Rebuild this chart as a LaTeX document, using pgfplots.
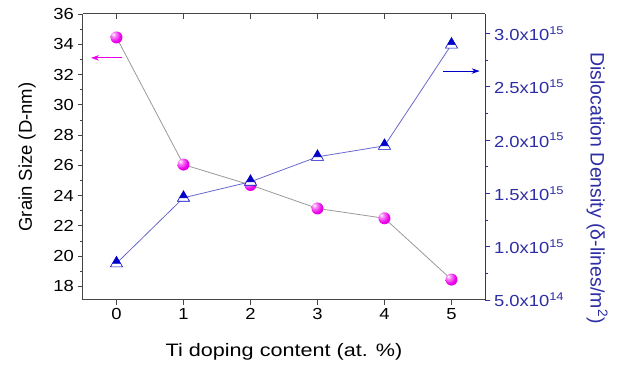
\documentclass[border=0pt]{standalone}
\usepackage{pgfplots}
\pgfplotsset{compat=1.18}
\usetikzlibrary{arrows.meta}
\usepackage{fontspec}
\setmainfont{Liberation Sans}
\definecolor{axblue}{RGB}{45,45,165}
\definecolor{mk}{RGB}{0,0,200}
\definecolor{lnblue}{RGB}{105,105,205}
\definecolor{axgray}{RGB}{70,70,70}
\definecolor{mag}{RGB}{235,0,235}

\pgfdeclareradialshading{magball}{\pgfqpoint{-14bp}{14bp}}{%
  color(0bp)=(white); color(9bp)=(mag!45!white); color(26bp)=(mag);
  color(50bp)=(mag!88!black); color(80bp)=(mag!75!black)}

\pgfdeclareplotmark{magball}{%
  \pgfpathcircle{\pgfpointorigin}{\pgfplotmarksize}%
  \pgfshadepath{magball}{0}%
  \pgfusepath{}%
}

\pgfdeclareplotmark{halftri}{%
  \pgfpathmoveto{\pgfqpoint{0pt}{\pgfplotmarksize}}%
  \pgfpathlineto{\pgfqpoint{-0.577\pgfplotmarksize}{0pt}}%
  \pgfpathlineto{\pgfqpoint{0.577\pgfplotmarksize}{0pt}}%
  \pgfpathclose
  \pgfusepathqfillstroke
  \begin{pgfscope}%
  \pgfsetfillcolor{white}%
  \pgfpathmoveto{\pgfqpoint{-0.577\pgfplotmarksize}{0pt}}%
  \pgfpathlineto{\pgfqpoint{-0.866\pgfplotmarksize}{-0.5\pgfplotmarksize}}%
  \pgfpathlineto{\pgfqpoint{0.866\pgfplotmarksize}{-0.5\pgfplotmarksize}}%
  \pgfpathlineto{\pgfqpoint{0.577\pgfplotmarksize}{0pt}}%
  \pgfpathclose
  \pgfusepathqfillstroke
  \end{pgfscope}%
}

\pgfplotstableread{
x grain
0 34.45
1 26.05
2 24.70
3 23.15
4 22.50
5 18.45
}\graintable

\pgfplotstableread{
x disl
0 8.44e14
1 1.459e15
2 1.609e15
3 1.843e15
4 1.946e15
5 2.896e15
}\disltable

\begin{document}
\begin{tikzpicture}
\path[use as bounding box] (-83pt,-67pt) rectangle (542pt,300pt);
\begin{axis}[
  at={(0,0)}, anchor=south west, scale only axis,
  width=402pt, height=286pt,
  xmin=-0.5, xmax=5.5, ymin=17.1, ymax=36,
  axis y line*=left, axis x line*=bottom,
  xtick={0,...,5}, ytick={18,20,...,36}, minor y tick num=1,
  tick align=outside, major tick length=5pt, minor tick length=3pt,
  axis line style={line width=1pt, draw=axgray},
  every tick/.style={axgray, line width=0.8pt},
  /pgf/number format/assume math mode=true,
  tick label style={font=\fontsize{16}{18}\selectfont, xscale=1.15},
  xlabel={Ti doping content (at. \%)},
  ylabel={Grain Size (D-nm)},
  xlabel style={font=\fontsize{18}{21}\selectfont, xscale=1.2, at={(axis description cs:0.5,-0.182)}, anchor=center},
  ylabel style={font=\fontsize{18.5}{21}\selectfont, at={(axis description cs:-0.139,0.5)}, anchor=center},
  clip=false,
]
\addplot[color=gray!80, line width=0.8pt, mark=magball, mark size=6pt] table[x=x, y=grain] {\graintable};
\draw[-{Stealth[length=8pt,width=5.5pt]}, mag, line width=0.9pt] (axis cs:0.085,33.1) -- (axis cs:-0.38,33.1);
\draw[-{Stealth[length=8pt,width=5.5pt]}, mk, line width=0.9pt] (axis cs:4.87,32.23) -- (axis cs:5.42,32.23);
\end{axis}
\begin{axis}[
  at={(0,0)}, anchor=south west, scale only axis,
  width=402pt, height=286pt,
  xmin=-0.5, xmax=5.5, ymin=5e14, ymax=3.183e15,
  axis y line*=right, axis x line*=top,
  xtick={0,...,5}, xticklabels={},
  ytick={5e14,1e15,1.5e15,2e15,2.5e15,3e15},
  yticklabels={5.0x10\textsuperscript{14},1.0x10\textsuperscript{15},1.5x10\textsuperscript{15},2.0x10\textsuperscript{15},2.5x10\textsuperscript{15},3.0x10\textsuperscript{15}},
  scaled y ticks=false,
  minor y tick num=1,
  tick align=outside, major tick length=5pt, minor tick length=3pt,
  x axis line style={line width=1pt, draw=axgray},
  y axis line style={line width=1pt, draw=axblue},
  xtick style={axgray, line width=0.8pt, yshift=-5pt},
  ytick style={axblue, line width=0.8pt},
  yticklabel style={font=\fontsize{16}{18}\selectfont, xscale=1.15, text=axblue},
  ylabel={Dislocation Density (δ-lines/m\textsuperscript{2})},
  ylabel style={font=\fontsize{19.5}{22}\selectfont, text=axblue, at={(axis description cs:1.279,0.392)}, anchor=center, rotate=180},
  clip=false,
]
\addplot[color=lnblue, line width=0.8pt, mark=halftri, mark size=7pt, mark options={draw=mk, fill=mk, line width=0.6pt}] table[x=x, y=disl] {\disltable};
\end{axis}
\end{tikzpicture}
\end{document}
